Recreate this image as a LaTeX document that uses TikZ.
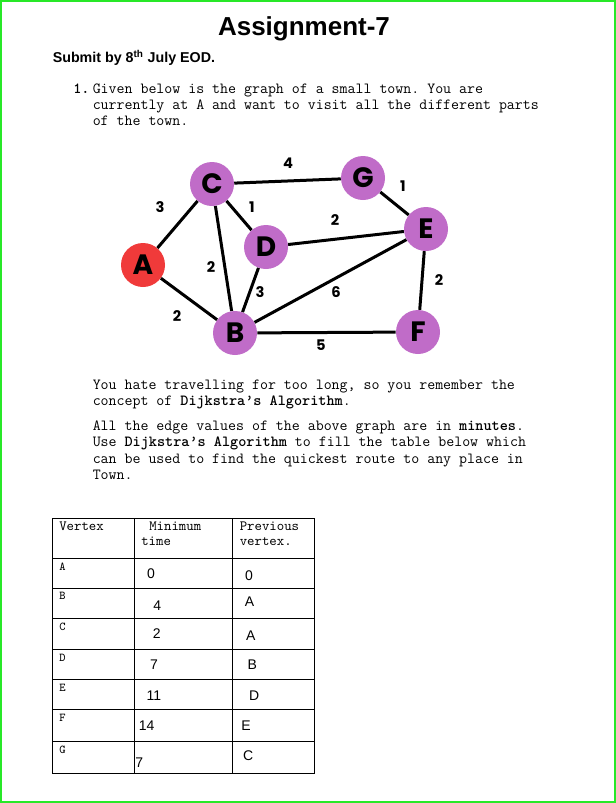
\documentclass[tikz,border=0pt]{standalone}
\usepackage{fontspec}
\setmainfont{Liberation Sans}
\newfontfamily\graphfont{Poppins}
\usepackage{tikz}
\frenchspacing

\definecolor{townpurple}{RGB}{192,108,200}
\definecolor{startred}{RGB}{240,58,58}
\definecolor{framegreen}{RGB}{40,232,40}

\tikzset{
  town/.style={circle, fill=townpurple, minimum size=33pt, inner sep=0pt,
    font=\graphfont\bfseries\fontsize{21}{21}\selectfont},
  road/.style={line width=2.25pt},
  cost/.style={inner sep=0pt, font=\graphfont\bfseries\fontsize{11}{11}\selectfont},
  mono/.style={anchor=base west, inner sep=0pt, font=\ttfamily\fontsize{11.6}{13}\selectfont},
  headcell/.style={anchor=base west, inner sep=0pt, font=\ttfamily\fontsize{10.6}{12}\selectfont},
  rowcell/.style={anchor=base west, inner sep=0pt, font=\ttfamily\fontsize{9}{10}\selectfont},
  numcell/.style={anchor=base, inner sep=0pt, font=\fontsize{10.5}{12}\selectfont}
}

\begin{document}
\begin{tikzpicture}[x=0.75pt,y=0.75pt,yscale=-1,xscale=1]
  \useasboundingbox (0,0) rectangle (616,803);
  % page frame
  \draw [color=framegreen, line width=1.5pt] (1,1) rectangle (615,802);

  % Text Node
  \node (title) at (304,36) [anchor=base, inner sep=0pt, font=\bfseries\fontsize{19.5}{22}\selectfont] {Assignment-7};
  % Text Node
  \node (submit) at (52.5,62.5) [anchor=base west, inner sep=0pt, font=\bfseries\fontsize{10.7}{12}\selectfont] {Submit by 8\textsuperscript{th} July EOD.};

  % Text Node
  \node (num) at (73,93) [mono] {\textbf{1.}};
  \node (q1) at (92.5,93) [mono] {Given below is the graph of a small town. You are};
  \node (q2) at (92.5,109) [mono] {currently at A and want to visit all the different parts};
  \node (q3) at (92.5,125) [mono] {of the town.};

  % Town graph
  \node (A) at (143,265) [town, fill=startred] {A};
  \node (B) at (235,333) [town] {B};
  \node (C) at (212,184) [town] {C};
  \node (D) at (266,247) [town] {D};
  \node (E) at (426,229) [town] {E};
  \node (F) at (418,332) [town] {F};
  \node (G) at (363,178) [town] {G};

  \draw [road] (A) -- (C);
  \draw [road] (A) -- (B);
  \draw [road] (C) -- (B);
  \draw [road] (C) -- (D);
  \draw [road] (C) -- (G);
  \draw [road] (D) -- (B);
  \draw [road] (D) -- (E);
  \draw [road] (G) -- (E);
  \draw [road] (B) -- (E);
  \draw [road] (B) -- (F);
  \draw [road] (E) -- (F);

  \node (wCG) at (288,163) [cost] {4};
  \node (wGE) at (403,186) [cost] {1};
  \node (wAC) at (160,207) [cost] {3};
  \node (wCD) at (252,207) [cost] {1};
  \node (wDE) at (335,220) [cost] {2};
  \node (wCB) at (211,267) [cost] {2};
  \node (wDB) at (260,292) [cost] {3};
  \node (wBE) at (336,292) [cost] {6};
  \node (wEF) at (439,280) [cost] {2};
  \node (wAB) at (177,316) [cost] {2};
  \node (wBF) at (321,345) [cost] {5};

  % Text Node
  \node (p1) at (92.5,389) [mono] {You hate travelling for too long, so you remember the};
  \node (p2) at (92.5,405.5) [mono] {concept of \textbf{Dijkstra’s Algorithm}.};
  \node (p3) at (92.5,430) [mono] {All the edge values of the above graph are in \textbf{minutes}.};
  \node (p4) at (92.5,446.5) [mono] {Use \textbf{Dijkstra’s Algorithm} to fill the table below which};
  \node (p5) at (92.5,463) [mono] {can be used to find the quickest route to any place in};
  \node (p6) at (92.5,479.5) [mono] {Town.};

  % Table
  \draw [line width=0.75pt] (52.5,518.5) rectangle (314.5,773.5);
  \draw [line width=0.75pt] (134.5,518.5) -- (134.5,773.5);
  \draw [line width=0.75pt] (232.5,518.5) -- (232.5,773.5);
  \draw [line width=0.75pt] (52.5,558.5) -- (314.5,558.5);
  \draw [line width=0.75pt] (52.5,588.5) -- (314.5,588.5);
  \draw [line width=0.75pt] (52.5,618.5) -- (314.5,618.5);
  \draw [line width=0.75pt] (52.5,649) -- (314.5,649);
  \draw [line width=0.75pt] (52.5,679.5) -- (314.5,679.5);
  \draw [line width=0.75pt] (52.5,709.5) -- (314.5,709.5);
  \draw [line width=0.75pt] (52.5,741) -- (314.5,741);

  % Text Node
  \node (hVertex) at (59,530) [headcell] {Vertex};
  \node (hMin) at (149,530) [headcell] {Minimum};
  \node (hTime) at (141,545.5) [headcell] {time};
  \node (hPrev) at (239.5,530) [headcell] {Previous};
  \node (hPrevB) at (239.5,545.5) [headcell] {vertex.};

  \node (rA) at (59,570) [rowcell] {A};
  \node (rB) at (59,599.5) [rowcell] {B};
  \node (rC) at (59,630) [rowcell] {C};
  \node (rD) at (59,661) [rowcell] {D};
  \node (rE) at (59,691) [rowcell] {E};
  \node (rF) at (59,721) [rowcell] {F};
  \node (rG) at (59,753) [rowcell] {G};

  \node (tA) at (151,578.3) [numcell] {0};
  \node (tB) at (157.3,610.7) [numcell] {4};
  \node (tC) at (156.7,638.3) [numcell] {2};
  \node (tD) at (154,669) [numcell] {7};
  \node (tE) at (154,700.3) [numcell] {11};
  \node (tF) at (146.7,730.3) [numcell] {14};
  \node (tG) at (139.3,767.3) [numcell] {7};

  \node (vA) at (249,580.5) [numcell] {0};
  \node (vB) at (249.5,606) [numcell] {A};
  \node (vC) at (250.7,640) [numcell] {A};
  \node (vD) at (252.3,669) [numcell] {B};
  \node (vE) at (254.3,700.3) [numcell] {D};
  \node (vF) at (246,730.3) [numcell] {E};
  \node (vG) at (248.3,760.7) [numcell] {C};
\end{tikzpicture}
\end{document}
